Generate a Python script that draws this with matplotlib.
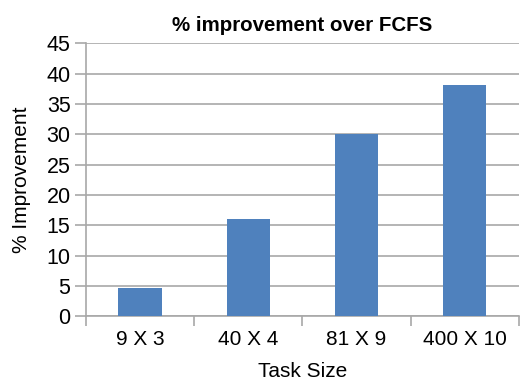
import matplotlib
matplotlib.use("Agg")
import matplotlib.pyplot as plt
import numpy as np

# task sizes and % improvement over FCFS
task_sizes = ["9 X 3", "40 X 4", "81 X 9", "400 X 10"]
improvement = [4.7, 16.0, 30.1, 38.2]
y_ticks = [0, 5, 10, 15, 20, 25, 30, 35, 40, 45]

plt.rcParams['font.family'] = ['Liberation Sans', 'DejaVu Sans']

fig = plt.figure(figsize=(5.2, 3.8), dpi=100)
ax = fig.add_axes([0.165, 0.168, 0.833, 0.718])

grid_col = '#a8a8a8'
x = np.arange(len(task_sizes))
ax.bar(x, improvement, width=0.4, color='#4f81bd', zorder=3)

ax.set_xlim(-0.5, len(task_sizes) - 0.5)
ax.set_ylim(0, 45)
ax.set_yticks(y_ticks)
ax.set_yticklabels([str(t) for t in y_ticks], fontsize=15.5)
ax.yaxis.grid(True, color=grid_col, linewidth=1.2, zorder=0)

# category separators on the x axis
ax.set_xticks(np.arange(len(task_sizes) + 1) - 0.5)
ax.set_xticklabels([])
ax.set_xticks(x, minor=True)
ax.set_xticklabels(task_sizes, minor=True, fontsize=15)
ax.tick_params(axis='x', which='major', length=7, color=grid_col, width=1.2)
ax.tick_params(axis='x', which='minor', length=0, pad=10)
ax.tick_params(axis='y', length=8, color=grid_col, width=1.2, pad=3)

for side in ['top', 'right']:
    ax.spines[side].set_visible(False)
for side in ['left', 'bottom']:
    ax.spines[side].set_color(grid_col)
    ax.spines[side].set_linewidth(1.2)

ax.set_title("% improvement over FCFS", fontsize=14.8, fontweight='bold', pad=9)
ax.set_xlabel("Task Size", fontsize=15, labelpad=9)
ax.set_ylabel("% Improvement", fontsize=15, labelpad=11)

fig.savefig("out.png", dpi=100)
